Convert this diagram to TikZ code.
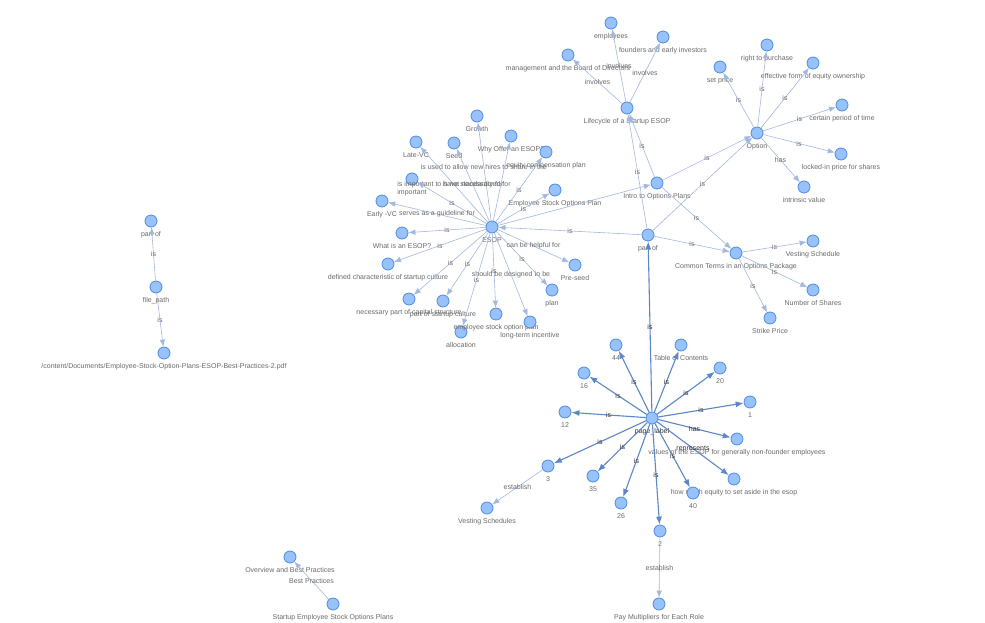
\documentclass[tikz,border=0pt]{standalone}
\usepackage{fontspec}
\setmainfont{Liberation Sans}
\usetikzlibrary{arrows.meta}

\definecolor{nodefill}{HTML}{97C2FC}
\definecolor{nodeline}{HTML}{4F8BE0}
\definecolor{edgelight}{HTML}{A3B8DE}
\definecolor{edgedark}{HTML}{5C87C6}
\definecolor{labelgray}{HTML}{6A6A6A}

\tikzstyle{vertex}=[circle,fill=nodefill,draw=nodeline,line width=0.8pt,minimum size=12pt,inner sep=0pt]
\tikzstyle{lbl}=[font=\fontsize{7}{8}\selectfont,text=labelgray,inner sep=0.5pt,label distance=3.5pt]
\tikzstyle{edge} = [draw,line width=0.6pt,edgelight,-{Latex[length=7pt,width=5.5pt]}]
\tikzstyle{page edge} = [draw,line width=1.1pt,edgedark,-{Latex[length=8pt,width=6pt]}]
\tikzstyle{weight} = [font=\fontsize{7}{8}\selectfont,text=labelgray,inner sep=0.5pt]
\tikzstyle{page weight} = [font=\fontsize{7}{8}\selectfont,text=black!80,inner sep=0.5pt]

\begin{document}
\begin{tikzpicture}[x=1pt,y=-1pt]
     \useasboundingbox[fill=white] (0,0) rectangle (985,622);
     % ESOP and what hangs off it
     \foreach \pos/\name/\txt in {{(492,227)/esop/ESOP}, {(477,116)/growth/Growth},
       {(416,142)/latevc/Late-VC}, {(454,143)/seed/Seed},
       {(511,136)/why/Why Offer an ESOP?}, {(546,152)/equity/equity compensation plan},
       {(555,190)/esoplan/Employee Stock Options Plan}, {(412,179)/important/important},
       {(382,201)/earlyvc/Early -VC}, {(402,233)/whatis/What is an ESOP?},
       {(388,264)/defined/defined characteristic of startup culture},
       {(409,299)/necessary/necessary part of capital structure},
       {(443,301)/culture/part of startup culture}, {(461,332)/allocation/allocation},
       {(496,314)/optplan/employee stock option plan}, {(530,322)/longterm/long-term incentive},
       {(552,290)/plan/plan}, {(575,265)/preseed/Pre-seed}}
     \node[vertex,label={[lbl]below:\txt}] (\name) at \pos {};

     % lifecycle, intro, option and terms
     \foreach \pos/\name/\txt in {{(627,108)/life/Lifecycle of a Startup ESOP},
       {(611,23)/employees/employees}, {(663,37)/founders/founders and early investors},
       {(568,55)/board/management and the Board of Directors},
       {(657,183)/intro/Intro to Options Plans}, {(648,235)/partof/part of},
       {(757,133)/option/Option}, {(720,67)/setprice/set price},
       {(767,45)/right/right to purchase}, {(813,63)/effective/effective form of equity ownership},
       {(842,105)/period/certain period of time}, {(841,154)/locked/locked-in price for shares},
       {(804,187)/intrinsic/intrinsic value},
       {(736,253)/terms/Common Terms in an Options Package},
       {(813,241)/vesting/Vesting Schedule}, {(813,290)/shares/Number of Shares},
       {(770,318)/strike/Strike Price}}
     \node[vertex,label={[lbl]below:\txt}] (\name) at \pos {};

     % page labels
     \node[vertex,label={[lbl,text=black!80]below:page\_label}] (page) at (652,418) {};
     \foreach \pos/\name/\txt in {{(616,345)/p44/44}, {(681,345)/toc/Table of Contents},
       {(720,368)/p20/20}, {(750,402)/p1/1},
       {(737,439)/values/values of the ESOP for generally non-founder employees},
       {(734,479)/howmuch/how much equity to set aside in the esop},
       {(693,493)/p40/40}, {(660,531)/p2/2}, {(621,503)/p26/26}, {(593,476)/p35/35},
       {(548,466)/p3/3}, {(565,412)/p12/12}, {(584,373)/p16/16},
       {(487,508)/vsched/Vesting Schedules}, {(659,604)/paymult/Pay Multipliers for Each Role}}
     \node[vertex,label={[lbl]below:\txt}] (\name) at \pos {};

     % file path and the loose pair
     \node[vertex,label={[lbl]below:part of}] (fpart) at (151,221) {};
     \node[vertex,label={[lbl]below:file\_path}] (fpath) at (156,287) {};
     \node[vertex,label={[lbl]below:/content/Documents/Employee-Stock-Option-Plans-ESOP-Best-Practices-2.pdf}] (pdf) at (164,353) {};
     \node[vertex,label={[lbl]below:Overview and Best Practices}] (overview) at (290,557) {};
     \node[vertex,label={[lbl]below:Startup Employee Stock Options Plans}] (startup) at (333,604) {};

     % Connect vertices with edges and draw weights
     \path[edge] (esop) -- node[weight,pos=0.55] {is used to allow new hires to share in the} (growth);
     \foreach \source/ \dest/ \weight in {
       esop/latevc/{is important to have standardized for}, esop/seed/{is not necessary for},
       esop/why/{}, esop/equity/is, esop/esoplan/is, esop/important/is,
       esop/earlyvc/{serves as a guideline for}, esop/whatis/is, esop/defined/is,
       esop/necessary/is, esop/culture/is, esop/allocation/is, esop/optplan/is,
       esop/longterm/{should be designed to be}, esop/plan/is, esop/preseed/{can be helpful for},
       esop/intro/{}, partof/esop/is,
       life/employees/involves, life/founders/involves, life/board/involves,
       intro/life/is, partof/life/is, intro/option/is, partof/option/is,
       option/setprice/is, option/right/is, option/effective/is, option/period/is,
       option/locked/is, option/intrinsic/has,
       intro/terms/is, partof/terms/is, terms/vesting/is, terms/shares/is, terms/strike/is,
       p3/vsched/establish, p2/paymult/establish,
       fpath/fpart/is, fpath/pdf/is, startup/overview/{Best Practices}}
     \path[edge] (\source) -- node[weight] {\weight} (\dest);

     \foreach \dest/ \weight in {partof/is, p44/is, toc/is, p20/is, p1/is, values/has,
       howmuch/represents, p40/is, p2/is, p26/is, p35/is, p3/is, p12/is, p16/is}
     \path[page edge] (page) -- node[page weight] {\weight} (\dest);
   \end{tikzpicture}
\end{document}
